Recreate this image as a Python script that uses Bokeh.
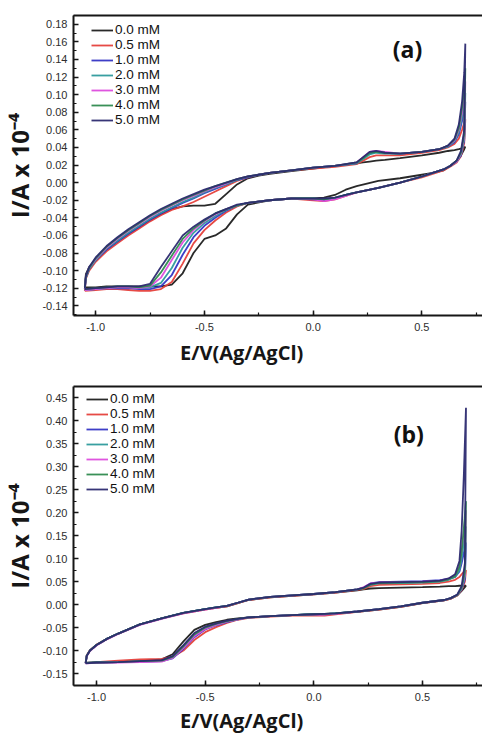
from bokeh.plotting import figure
from bokeh.layouts import column
from bokeh.models import (Range1d, SingleIntervalTicker, NumeralTickFormatter, FixedTicker,
                          LinearAxis, Legend, LegendItem, Label)
from bokeh.embed import file_html
from bokeh.resources import INLINE

# ---------------- data ----------------
labels = ["0.0 mM", "0.5 mM", "1.0 mM", "2.0 mM", "3.0 mM", "4.0 mM", "5.0 mM"]
colors = ["#1e1e1e", "#e5403b", "#3434c4", "#2d9a9c", "#dd4cdd", "#2e8a4e", "#2c2a70"]

# panel (a): potential grid, forward (upper) and reverse (lower) branches
a_e_up = [-1.05, -1.045, -1.03, -1.0, -0.95, -0.9, -0.85, -0.8, -0.75, -0.7, -0.65, -0.6,
          -0.55, -0.5, -0.45, -0.4, -0.35, -0.3, -0.25, -0.2, -0.1, 0.0, 0.1, 0.2, 0.23,
          0.26, 0.29, 0.33, 0.4, 0.5, 0.58, 0.62, 0.65, 0.67, 0.685, 0.695, 0.70]
a_e_dn = [0.695, 0.68, 0.66, 0.63, 0.6, 0.55, 0.5, 0.4, 0.3, 0.2, 0.15, 0.1, 0.05, 0.0,
          -0.1, -0.2, -0.3, -0.35, -0.4, -0.45, -0.5, -0.55, -0.6, -0.65, -0.7, -0.75,
          -0.8, -0.85, -0.9, -0.95, -1.0, -1.05]

a_up_00 = [-0.118, -0.104, -0.096, -0.088, -0.076, -0.067, -0.058, -0.051, -0.043, -0.036,
           -0.030, -0.027, -0.026, -0.026, -0.024, -0.013, -0.002, 0.005, 0.008, 0.010,
           0.013, 0.016, 0.019, 0.022, 0.023, 0.024, 0.025, 0.026, 0.028, 0.031, 0.034,
           0.036, 0.037, 0.038, 0.039, 0.040, 0.041]
a_up_05 = [-0.123, -0.109, -0.100, -0.090, -0.078, -0.069, -0.060, -0.052, -0.044, -0.037,
           -0.031, -0.027, -0.022, -0.016, -0.010, -0.004, 0.002, 0.006, 0.009, 0.011,
           0.014, 0.016, 0.018, 0.021, 0.025, 0.029, 0.031, 0.031, 0.031, 0.034, 0.037,
           0.040, 0.044, 0.050, 0.060, 0.068, 0.072]
a_up_10 = [-0.121, -0.108, -0.098, -0.088, -0.076, -0.067, -0.058, -0.050, -0.042, -0.035,
           -0.029, -0.023, -0.018, -0.012, -0.007, -0.002, 0.003, 0.006, 0.009, 0.011,
           0.014, 0.017, 0.019, 0.022, 0.028, 0.033, 0.035, 0.034, 0.033, 0.035, 0.038,
           0.041, 0.046, 0.055, 0.070, 0.083, 0.092]
a_up_20 = [-0.121, -0.108, -0.098, -0.088, -0.075, -0.066, -0.057, -0.049, -0.041, -0.034,
           -0.028, -0.022, -0.017, -0.011, -0.006, -0.002, 0.003, 0.007, 0.009, 0.011,
           0.014, 0.017, 0.019, 0.022, 0.027, 0.032, 0.034, 0.033, 0.033, 0.035, 0.038,
           0.041, 0.047, 0.057, 0.074, 0.090, 0.102]
a_up_30 = [-0.121, -0.107, -0.097, -0.087, -0.074, -0.064, -0.055, -0.047, -0.039, -0.032,
           -0.026, -0.020, -0.015, -0.010, -0.005, -0.001, 0.004, 0.007, 0.009, 0.011,
           0.014, 0.017, 0.019, 0.023, 0.029, 0.035, 0.036, 0.035, 0.033, 0.035, 0.038,
           0.042, 0.048, 0.060, 0.080, 0.100, 0.115]
a_up_40 = [-0.120, -0.107, -0.097, -0.086, -0.073, -0.063, -0.054, -0.046, -0.038, -0.031,
           -0.025, -0.019, -0.014, -0.009, -0.004, 0.000, 0.004, 0.007, 0.009, 0.011,
           0.014, 0.017, 0.019, 0.023, 0.028, 0.034, 0.035, 0.034, 0.033, 0.035, 0.038,
           0.042, 0.049, 0.062, 0.085, 0.110, 0.130]
a_up_50 = [-0.120, -0.106, -0.096, -0.085, -0.072, -0.062, -0.053, -0.045, -0.037, -0.030,
           -0.024, -0.018, -0.013, -0.008, -0.004, 0.000, 0.004, 0.007, 0.009, 0.011,
           0.014, 0.017, 0.019, 0.023, 0.029, 0.035, 0.036, 0.034, 0.033, 0.035, 0.038,
           0.042, 0.050, 0.066, 0.092, 0.125, 0.158]

a_dn_00 = [0.038, 0.031, 0.025, 0.019, 0.014, 0.011, 0.009, 0.005, 0.002, -0.004, -0.008,
           -0.014, -0.017, -0.018, -0.018, -0.020, -0.025, -0.036, -0.052, -0.060, -0.064,
           -0.080, -0.103, -0.116, -0.118, -0.118, -0.118, -0.118, -0.118, -0.118, -0.119,
           -0.119]
a_dn_05 = [0.045, 0.030, 0.023, 0.018, 0.014, 0.010, 0.006, 0.000, -0.006, -0.011, -0.015,
           -0.019, -0.021, -0.020, -0.018, -0.020, -0.023, -0.027, -0.034, -0.043, -0.054,
           -0.069, -0.092, -0.113, -0.121, -0.123, -0.123, -0.122, -0.121, -0.121, -0.122,
           -0.123]
a_dn_10 = [0.048, 0.031, 0.024, 0.019, 0.015, 0.011, 0.007, 0.000, -0.006, -0.011, -0.014,
           -0.018, -0.020, -0.019, -0.018, -0.020, -0.023, -0.026, -0.032, -0.040, -0.049,
           -0.062, -0.082, -0.105, -0.118, -0.121, -0.121, -0.120, -0.120, -0.120, -0.121,
           -0.122]
a_dn_20 = [0.050, 0.032, 0.024, 0.019, 0.015, 0.011, 0.007, 0.000, -0.006, -0.011, -0.014,
           -0.018, -0.019, -0.018, -0.018, -0.020, -0.023, -0.026, -0.031, -0.038, -0.046,
           -0.057, -0.074, -0.097, -0.114, -0.119, -0.120, -0.119, -0.119, -0.120, -0.121,
           -0.122]
a_dn_30 = [0.052, 0.033, 0.024, 0.019, 0.015, 0.011, 0.007, 0.000, -0.006, -0.011, -0.015,
           -0.019, -0.021, -0.019, -0.018, -0.020, -0.023, -0.026, -0.030, -0.036, -0.044,
           -0.054, -0.068, -0.088, -0.108, -0.118, -0.120, -0.119, -0.119, -0.120, -0.121,
           -0.122]
a_dn_40 = [0.055, 0.034, 0.025, 0.019, 0.015, 0.011, 0.007, 0.000, -0.006, -0.011, -0.014,
           -0.017, -0.019, -0.018, -0.018, -0.020, -0.023, -0.026, -0.030, -0.035, -0.043,
           -0.052, -0.064, -0.083, -0.102, -0.117, -0.119, -0.118, -0.118, -0.119, -0.120,
           -0.121]
a_dn_50 = [0.060, 0.036, 0.025, 0.019, 0.015, 0.011, 0.007, 0.000, -0.006, -0.011, -0.014,
           -0.017, -0.018, -0.018, -0.018, -0.020, -0.023, -0.025, -0.030, -0.035, -0.042,
           -0.050, -0.060, -0.078, -0.096, -0.115, -0.118, -0.118, -0.118, -0.119, -0.120,
           -0.121]

# panel (b)
b_e_up = [-1.05, -1.045, -1.03, -1.0, -0.95, -0.9, -0.8, -0.7, -0.6, -0.5, -0.45, -0.4,
          -0.35, -0.3, -0.2, -0.1, 0.0, 0.1, 0.2, 0.23, 0.26, 0.3, 0.4, 0.5, 0.58, 0.62,
          0.65, 0.67, 0.68, 0.69, 0.70]
b_e_dn = [0.695, 0.68, 0.66, 0.63, 0.6, 0.5, 0.4, 0.3, 0.2, 0.1, 0.05, 0.0, -0.1, -0.2,
          -0.3, -0.35, -0.4, -0.45, -0.5, -0.55, -0.6, -0.65, -0.7, -0.8, -0.9, -1.0, -1.05]

b_up_00 = [-0.127, -0.111, -0.100, -0.088, -0.074, -0.063, -0.043, -0.030, -0.018, -0.010,
           -0.007, -0.004, 0.003, 0.010, 0.016, 0.019, 0.022, 0.026, 0.031, 0.033, 0.035,
           0.036, 0.037, 0.038, 0.039, 0.040, 0.040, 0.041, 0.041, 0.041, 0.041]
b_up_05 = [-0.126, -0.110, -0.099, -0.087, -0.074, -0.063, -0.043, -0.030, -0.019, -0.011,
           -0.007, -0.004, 0.003, 0.010, 0.016, 0.019, 0.022, 0.026, 0.032, 0.034, 0.040,
           0.043, 0.044, 0.045, 0.047, 0.050, 0.054, 0.060, 0.066, 0.071, 0.075]
b_up_10 = [-0.127, -0.111, -0.100, -0.088, -0.074, -0.063, -0.043, -0.030, -0.018, -0.010,
           -0.006, -0.003, 0.004, 0.011, 0.017, 0.020, 0.023, 0.027, 0.033, 0.037, 0.046,
           0.049, 0.050, 0.051, 0.053, 0.056, 0.060, 0.072, 0.090, 0.112, 0.135]
b_up_20 = [-0.127, -0.111, -0.100, -0.088, -0.074, -0.063, -0.043, -0.030, -0.018, -0.010,
           -0.006, -0.003, 0.004, 0.011, 0.017, 0.020, 0.023, 0.027, 0.033, 0.036, 0.043,
           0.046, 0.047, 0.048, 0.050, 0.054, 0.060, 0.075, 0.100, 0.135, 0.170]
b_up_30 = [-0.128, -0.112, -0.101, -0.089, -0.075, -0.064, -0.044, -0.031, -0.019, -0.011,
           -0.007, -0.003, 0.004, 0.011, 0.017, 0.020, 0.023, 0.027, 0.033, 0.038, 0.046,
           0.048, 0.049, 0.050, 0.052, 0.056, 0.064, 0.085, 0.118, 0.160, 0.205]
b_up_40 = [-0.127, -0.111, -0.100, -0.088, -0.074, -0.063, -0.043, -0.030, -0.018, -0.010,
           -0.006, -0.003, 0.004, 0.011, 0.017, 0.020, 0.023, 0.027, 0.033, 0.036, 0.044,
           0.047, 0.048, 0.049, 0.051, 0.055, 0.062, 0.082, 0.115, 0.165, 0.225]
b_up_50 = [-0.128, -0.112, -0.100, -0.088, -0.074, -0.063, -0.043, -0.030, -0.018, -0.010,
           -0.006, -0.003, 0.004, 0.011, 0.017, 0.020, 0.023, 0.027, 0.033, 0.037, 0.045,
           0.048, 0.049, 0.050, 0.052, 0.057, 0.066, 0.095, 0.160, 0.280, 0.428]

b_dn_00 = [0.038, 0.030, 0.020, 0.013, 0.009, 0.003, -0.005, -0.011, -0.016, -0.019, -0.020,
           -0.021, -0.023, -0.025, -0.028, -0.030, -0.033, -0.038, -0.044, -0.055, -0.080,
           -0.108, -0.119, -0.123, -0.125, -0.126, -0.127]
b_dn_05 = [0.050, 0.032, 0.020, 0.013, 0.009, 0.003, -0.005, -0.011, -0.016, -0.021, -0.024,
           -0.024, -0.024, -0.026, -0.029, -0.033, -0.040, -0.049, -0.060, -0.077, -0.100,
           -0.114, -0.118, -0.119, -0.122, -0.125, -0.127]
b_dn_10 = [0.055, 0.033, 0.021, 0.014, 0.010, 0.004, -0.004, -0.010, -0.015, -0.019, -0.021,
           -0.021, -0.023, -0.025, -0.028, -0.032, -0.038, -0.045, -0.054, -0.071, -0.096,
           -0.117, -0.123, -0.124, -0.125, -0.126, -0.127]
b_dn_20 = [0.060, 0.034, 0.021, 0.014, 0.010, 0.004, -0.004, -0.010, -0.015, -0.019, -0.021,
           -0.021, -0.023, -0.025, -0.028, -0.032, -0.037, -0.044, -0.052, -0.068, -0.093,
           -0.115, -0.123, -0.124, -0.125, -0.126, -0.127]
b_dn_30 = [0.065, 0.035, 0.021, 0.014, 0.010, 0.004, -0.004, -0.010, -0.015, -0.020, -0.022,
           -0.022, -0.023, -0.025, -0.028, -0.032, -0.037, -0.044, -0.053, -0.069, -0.094,
           -0.116, -0.124, -0.125, -0.126, -0.127, -0.128]
b_dn_40 = [0.070, 0.036, 0.021, 0.014, 0.010, 0.004, -0.004, -0.010, -0.015, -0.019, -0.020,
           -0.021, -0.023, -0.025, -0.028, -0.031, -0.036, -0.042, -0.050, -0.065, -0.091,
           -0.114, -0.122, -0.123, -0.125, -0.126, -0.127]
b_dn_50 = [0.090, 0.040, 0.022, 0.014, 0.010, 0.004, -0.004, -0.010, -0.015, -0.019, -0.020,
           -0.021, -0.023, -0.025, -0.028, -0.031, -0.035, -0.041, -0.048, -0.062, -0.088,
           -0.112, -0.121, -0.123, -0.125, -0.126, -0.128]

a_ups = [a_up_00, a_up_05, a_up_10, a_up_20, a_up_30, a_up_40, a_up_50]
a_dns = [a_dn_00, a_dn_05, a_dn_10, a_dn_20, a_dn_30, a_dn_40, a_dn_50]
b_ups = [b_up_00, b_up_05, b_up_10, b_up_20, b_up_30, b_up_40, b_up_50]
b_dns = [b_dn_00, b_dn_05, b_dn_10, b_dn_20, b_dn_30, b_dn_40, b_dn_50]

X_LABEL = "E/V(Ag/AgCl)"
Y_LABEL = "I/A x 10\u207b\u2074"
INK = "#161616"
# the reference x title sits left of the axis centre: pad it on the right
X_PAD = "\u00a0" * 14


def style_axis(ax, tick_standoff):
    ax.axis_line_width = 2
    ax.axis_line_color = INK
    ax.major_tick_in = 5
    ax.major_tick_out = 0
    ax.minor_tick_in = 3
    ax.minor_tick_out = 0
    ax.major_tick_line_width = 1.5
    ax.minor_tick_line_width = 1.2
    ax.major_tick_line_color = INK
    ax.minor_tick_line_color = INK
    ax.major_label_text_font = "Liberation Sans"
    ax.major_label_text_font_size = "11px"
    ax.major_label_text_color = "#2e2e2e"
    ax.major_label_standoff = tick_standoff


def title_axis(ax, text, size, standoff):
    ax.axis_label = text
    ax.axis_label_text_font = "Open Sans"
    ax.axis_label_text_font_style = "bold"
    ax.axis_label_text_font_size = size
    ax.axis_label_text_color = INK
    ax.axis_label_standoff = standoff


def make_panel(e_up, e_dn, ups, dns, x_rng, y_rng, y_step, borders, leg_loc,
               tag, tag_xy, xlab_standoff):
    p = figure(width=482, height=368, output_backend="svg", toolbar_location=None,
               x_range=Range1d(*x_rng), y_range=Range1d(*y_rng),
               min_border_left=borders[0], min_border_right=borders[1],
               min_border_top=borders[2], min_border_bottom=borders[3])
    p.xgrid.visible = False
    p.ygrid.visible = False
    p.outline_line_color = None
    p.background_fill_color = "white"
    p.border_fill_color = "white"

    p.xaxis.ticker = SingleIntervalTicker(interval=0.5, num_minor_ticks=2)
    p.xaxis.formatter = NumeralTickFormatter(format="0.0")
    p.yaxis.ticker = SingleIntervalTicker(interval=y_step, num_minor_ticks=2)
    p.yaxis.formatter = NumeralTickFormatter(format="0.00")
    style_axis(p.xaxis[0], 7)
    style_axis(p.yaxis[0], 6)
    title_axis(p.xaxis[0], X_LABEL + X_PAD, "20px", xlab_standoff)
    title_axis(p.yaxis[0], Y_LABEL, "24px", 3)

    # top frame line only (the reference's right edge is cropped away)
    top = LinearAxis(ticker=FixedTicker(ticks=[]), axis_line_width=2, axis_line_color=INK,
                     major_tick_line_color=None, minor_tick_line_color=None,
                     major_label_text_font_size="0px")
    p.add_layout(top, "above")

    items = []
    for lab, col, up, dn in zip(labels, colors, ups, dns):
        r = p.line(e_up + e_dn, up + dn, line_color=col, line_width=1.8, line_alpha=0.95)
        items.append(LegendItem(label=lab, renderers=[r]))

    leg = Legend(items=items, location=leg_loc, orientation="vertical",
                 border_line_color=None, background_fill_alpha=0,
                 padding=0, margin=0, spacing=0,
                 glyph_width=22, glyph_height=14, label_height=14, label_standoff=2,
                 label_text_font="Liberation Sans", label_text_font_size="13.5px",
                 label_text_color="#111111", label_text_baseline="middle")
    p.add_layout(leg)

    p.add_layout(Label(x=tag_xy[0], y=tag_xy[1], text=tag, text_font="Open Sans",
                       text_font_style="bold", text_font_size="23px",
                       text_color="#111111", text_align="center",
                       text_baseline="middle"))
    return p


pa = make_panel(a_e_up, a_e_dn, a_ups, a_dns,
                (-1.102, 0.779), (-0.151, 0.190), 0.02,
                (72, 0, 15, 51), (18, 188), "(a)", (0.434, 0.152), 5)
pb = make_panel(b_e_up, b_e_dn, b_ups, b_dns,
                (-1.106, 0.776), (-0.176, 0.4744), 0.05,
                (73, 0, 18, 49), (13, 189), "(b)", (0.437, 0.372), 3)

layout = column(pa, pb, spacing=0)
open("out.html", "w").write(file_html(layout, INLINE))
